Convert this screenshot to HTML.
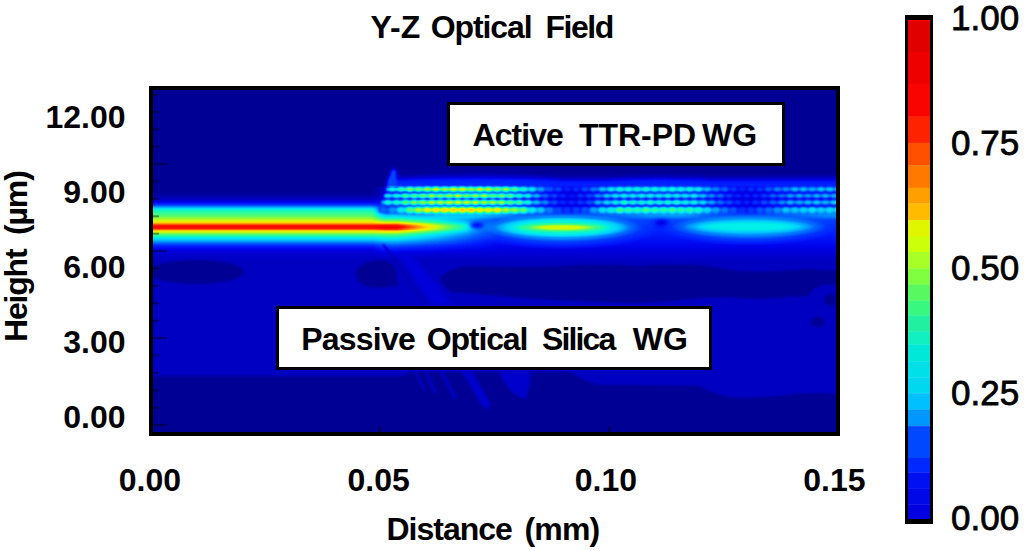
<!DOCTYPE html>
<html><head><meta charset="utf-8"><style>
html,body{margin:0;padding:0;background:#fff;width:1024px;height:551px;overflow:hidden;position:relative}
.t{position:absolute;font-family:"Liberation Sans",sans-serif;font-weight:bold;font-size:32px;line-height:32px;white-space:pre;color:#000}
.c{position:absolute;font-family:"Liberation Sans",sans-serif;font-weight:normal;font-size:35px;line-height:35px;white-space:pre;color:#000;left:951px;-webkit-text-stroke:0.8px #000}
.yt{position:absolute;left:25.5px;width:100px;text-align:right;font-family:"Liberation Sans",sans-serif;font-weight:bold;font-size:32px;line-height:32px;white-space:pre}
.r{transform-origin:0 0;transform:rotate(-90deg)}
#plot{position:absolute;left:149px;top:86px;width:683px;height:342px;border:4px solid #000;overflow:hidden;background:#000090}
#plot svg{position:absolute;left:0;top:0}
.box{position:absolute;background:#fff;border:3px solid #000;box-sizing:border-box}
#cbar{position:absolute;left:904.8px;top:14.5px;width:28.7px;height:509px;box-sizing:border-box;border:solid #000;border-width:5px 3.2px 5px 3.2px;overflow:hidden}
</style></head><body>
<!-- title -->
<span class="t" style="left:370.4px;top:11px">Y-Z</span>
<span class="t" style="left:430.7px;top:11px;letter-spacing:-1.08px">Optical</span>
<span class="t" style="left:545.5px;top:11px;letter-spacing:-1.5px">Field</span>

<!-- y ticks -->
<div class="yt" style="top:101.1px">12.00</div>
<div class="yt" style="top:175.9px">9.00</div>
<div class="yt" style="top:250.8px">6.00</div>
<div class="yt" style="top:325.6px">3.00</div>
<div class="yt" style="top:400.5px">0.00</div>

<!-- y label -->
<span class="t r" style="left:-0.4px;top:342px;letter-spacing:-1.2px">Height</span>
<span class="t r" style="left:-0.4px;top:234.5px;letter-spacing:-1.13px">(µm)</span>

<!-- x ticks -->
<span class="t" style="left:118.7px;top:464.2px">0.00</span>
<span class="t" style="left:347.5px;top:464.2px">0.05</span>
<span class="t" style="left:574.8px;top:464.2px">0.10</span>
<span class="t" style="left:803.2px;top:464.2px">0.15</span>

<!-- x label -->
<span class="t" style="left:386.5px;top:512.6px;letter-spacing:-1.0px">Distance</span>
<span class="t" style="left:524.4px;top:512.6px;letter-spacing:-0.8px">(mm)</span>

<!-- plot -->
<div id="plot">
<svg id="hm" width="683" height="342" viewBox="153 90 683 342"><defs><filter id="cm" filterUnits="userSpaceOnUse" x="153" y="90" width="683" height="342" color-interpolation-filters="sRGB"><feComponentTransfer><feFuncR type="table" tableValues="0 0 0 0 0 0 0 0 0 0 0 0 0 0 0 0 0 0 0 0 0 0 0 0 0 0 0 0 0 0 0 0 0 0 0 0 0 0 0 0 0 0.02 0.039 0.059 0.078 0.098 0.118 0.15 0.183 0.216 0.248 0.281 0.314 0.353 0.392 0.431 0.471 0.51 0.549 0.595 0.641 0.686 0.732 0.778 0.824 0.85 0.876 0.902 0.928 0.954 0.98 0.984 0.987 0.99 0.993 0.997 1 1 1 1 1 1 1 1 1 1 1 1 1 0.998 0.995 0.993 0.991 0.988 0.962 0.936 0.909 0.883 0.857 0.83 0.804"/><feFuncG type="table" tableValues="0 0 0 0 0 0 0 0 0 0 0 0 0 0.029 0.059 0.088 0.118 0.157 0.196 0.235 0.275 0.314 0.353 0.392 0.431 0.471 0.51 0.549 0.588 0.624 0.66 0.696 0.732 0.768 0.804 0.827 0.85 0.873 0.895 0.918 0.941 0.949 0.957 0.965 0.973 0.98 0.988 0.988 0.988 0.988 0.988 0.988 0.988 0.988 0.988 0.988 0.988 0.988 0.988 0.987 0.986 0.984 0.983 0.982 0.98 0.967 0.954 0.941 0.928 0.915 0.902 0.863 0.824 0.784 0.745 0.706 0.667 0.621 0.575 0.529 0.484 0.438 0.392 0.346 0.301 0.255 0.209 0.163 0.118 0.094 0.071 0.047 0.024 0 0 0 0 0 0 0 0"/><feFuncB type="table" tableValues="0.588 0.612 0.635 0.659 0.682 0.706 0.729 0.753 0.781 0.813 0.845 0.878 0.91 0.932 0.955 0.977 1 1 1 1 1 1 1 1 1 1 1 1 1 1 1 1 1 1 1 0.985 0.97 0.955 0.94 0.925 0.91 0.869 0.829 0.788 0.748 0.707 0.667 0.634 0.601 0.569 0.536 0.503 0.471 0.431 0.392 0.353 0.314 0.275 0.235 0.196 0.157 0.118 0.078 0.039 0 0 0 0 0 0 0 0 0 0 0 0 0 0 0 0 0 0 0 0 0 0 0 0 0 0 0 0 0 0 0 0 0 0 0 0 0"/></feComponentTransfer></filter><filter id="b0_7" filterUnits="userSpaceOnUse" x="100" y="40" width="800" height="450" color-interpolation-filters="sRGB"><feGaussianBlur stdDeviation="0.7"/></filter><filter id="b1" filterUnits="userSpaceOnUse" x="100" y="40" width="800" height="450" color-interpolation-filters="sRGB"><feGaussianBlur stdDeviation="1"/></filter><filter id="b1_5" filterUnits="userSpaceOnUse" x="100" y="40" width="800" height="450" color-interpolation-filters="sRGB"><feGaussianBlur stdDeviation="1.5"/></filter><filter id="b2" filterUnits="userSpaceOnUse" x="100" y="40" width="800" height="450" color-interpolation-filters="sRGB"><feGaussianBlur stdDeviation="2"/></filter><filter id="b3" filterUnits="userSpaceOnUse" x="100" y="40" width="800" height="450" color-interpolation-filters="sRGB"><feGaussianBlur stdDeviation="3"/></filter><filter id="b4" filterUnits="userSpaceOnUse" x="100" y="40" width="800" height="450" color-interpolation-filters="sRGB"><feGaussianBlur stdDeviation="4"/></filter><filter id="b6" filterUnits="userSpaceOnUse" x="100" y="40" width="800" height="450" color-interpolation-filters="sRGB"><feGaussianBlur stdDeviation="6"/></filter><linearGradient id="gb" gradientUnits="userSpaceOnUse" x1="0" y1="187.0" x2="0" y2="267.0"><stop offset="0.0000" stop-color="rgb(0,0,0)"/><stop offset="0.0750" stop-color="rgb(0,0,0)"/><stop offset="0.1125" stop-color="rgb(8,8,8)"/><stop offset="0.1625" stop-color="rgb(22,22,22)"/><stop offset="0.2000" stop-color="rgb(36,36,36)"/><stop offset="0.2275" stop-color="rgb(51,51,51)"/><stop offset="0.2525" stop-color="rgb(76,76,76)"/><stop offset="0.2775" stop-color="rgb(102,102,102)"/><stop offset="0.3125" stop-color="rgb(120,120,120)"/><stop offset="0.3625" stop-color="rgb(135,135,135)"/><stop offset="0.4000" stop-color="rgb(153,153,153)"/><stop offset="0.4337" stop-color="rgb(173,173,173)"/><stop offset="0.4587" stop-color="rgb(199,199,199)"/><stop offset="0.4775" stop-color="rgb(224,224,224)"/><stop offset="0.5000" stop-color="rgb(237,237,237)"/><stop offset="0.5238" stop-color="rgb(224,224,224)"/><stop offset="0.5363" stop-color="rgb(199,199,199)"/><stop offset="0.5538" stop-color="rgb(173,173,173)"/><stop offset="0.5813" stop-color="rgb(145,145,145)"/><stop offset="0.6062" stop-color="rgb(122,122,122)"/><stop offset="0.6312" stop-color="rgb(102,102,102)"/><stop offset="0.6625" stop-color="rgb(84,84,84)"/><stop offset="0.6937" stop-color="rgb(64,64,64)"/><stop offset="0.7250" stop-color="rgb(46,46,46)"/><stop offset="0.7750" stop-color="rgb(31,31,31)"/><stop offset="0.8375" stop-color="rgb(23,23,23)"/><stop offset="0.9125" stop-color="rgb(19,19,19)"/></linearGradient><linearGradient id="gt" gradientUnits="userSpaceOnUse" x1="0" y1="187.0" x2="0" y2="267.0"><stop offset="0.0000" stop-color="rgb(19,19,19)"/><stop offset="0.1250" stop-color="rgb(26,26,26)"/><stop offset="0.2250" stop-color="rgb(38,38,38)"/><stop offset="0.3125" stop-color="rgb(51,51,51)"/><stop offset="0.3500" stop-color="rgb(82,82,82)"/><stop offset="0.3875" stop-color="rgb(107,107,107)"/><stop offset="0.4250" stop-color="rgb(145,145,145)"/><stop offset="0.4462" stop-color="rgb(173,173,173)"/><stop offset="0.4625" stop-color="rgb(204,204,204)"/><stop offset="0.4762" stop-color="rgb(224,224,224)"/><stop offset="0.5000" stop-color="rgb(242,242,242)"/><stop offset="0.5288" stop-color="rgb(224,224,224)"/><stop offset="0.5425" stop-color="rgb(199,199,199)"/><stop offset="0.5600" stop-color="rgb(173,173,173)"/><stop offset="0.5875" stop-color="rgb(140,140,140)"/><stop offset="0.6188" stop-color="rgb(115,115,115)"/><stop offset="0.6500" stop-color="rgb(97,97,97)"/><stop offset="0.6875" stop-color="rgb(76,76,76)"/><stop offset="0.7375" stop-color="rgb(51,51,51)"/><stop offset="0.8125" stop-color="rgb(31,31,31)"/><stop offset="0.9000" stop-color="rgb(19,19,19)"/></linearGradient><linearGradient id="fadeT" gradientUnits="userSpaceOnUse" x1="372" y1="0" x2="500" y2="0"><stop offset="0" stop-color="#000"/><stop offset="0.1" stop-color="#fff"/><stop offset="0.2" stop-color="#fff"/><stop offset="1" stop-color="#000"/></linearGradient><mask id="mT" maskUnits="userSpaceOnUse" x="153" y="90" width="683" height="342"><rect x="153" y="90" width="683" height="342" fill="url(#fadeT)"/></mask><linearGradient id="gh" gradientUnits="userSpaceOnUse" x1="0" y1="172" x2="0" y2="262"><stop offset="-0.0444" stop-color="rgb(0,0,0)"/><stop offset="0.0111" stop-color="rgb(13,13,13)"/><stop offset="0.0667" stop-color="rgb(28,28,28)"/><stop offset="0.1222" stop-color="rgb(41,41,41)"/><stop offset="0.1611" stop-color="rgb(48,48,48)"/><stop offset="0.1778" stop-color="rgb(26,26,26)"/><stop offset="0.4333" stop-color="rgb(26,26,26)"/><stop offset="0.4556" stop-color="rgb(43,43,43)"/><stop offset="0.5000" stop-color="rgb(48,48,48)"/><stop offset="0.5444" stop-color="rgb(48,48,48)"/><stop offset="0.6000" stop-color="rgb(43,43,43)"/><stop offset="0.6667" stop-color="rgb(41,41,41)"/><stop offset="0.7556" stop-color="rgb(36,36,36)"/><stop offset="0.8444" stop-color="rgb(31,31,31)"/><stop offset="0.9222" stop-color="rgb(23,23,23)"/><stop offset="1.0000" stop-color="rgb(19,19,19)"/></linearGradient><linearGradient id="cbh" gradientUnits="userSpaceOnUse" x1="405" y1="0" x2="836" y2="0"><stop offset="0" stop-color="#000" stop-opacity="0"/><stop offset="0.08" stop-color="#000" stop-opacity="1"/><stop offset="1" stop-color="#000" stop-opacity="1"/></linearGradient><linearGradient id="cbv" gradientUnits="userSpaceOnUse" x1="405" y1="0" x2="836" y2="0"><stop offset="0.000" stop-color="rgb(76,76,76)" stop-opacity="0"/><stop offset="0.081" stop-color="rgb(87,87,87)" stop-opacity="1"/><stop offset="0.220" stop-color="rgb(82,82,82)" stop-opacity="1"/><stop offset="0.290" stop-color="rgb(61,61,61)" stop-opacity="1"/><stop offset="0.371" stop-color="rgb(36,36,36)" stop-opacity="1"/><stop offset="0.452" stop-color="rgb(61,61,61)" stop-opacity="1"/><stop offset="0.661" stop-color="rgb(76,76,76)" stop-opacity="1"/><stop offset="0.731" stop-color="rgb(51,51,51)" stop-opacity="1"/><stop offset="0.800" stop-color="rgb(36,36,36)" stop-opacity="1"/><stop offset="0.882" stop-color="rgb(61,61,61)" stop-opacity="1"/><stop offset="1.000" stop-color="rgb(69,69,69)" stop-opacity="1"/></linearGradient><radialGradient id="L10"><stop offset="0.5" stop-color="rgb(56,56,56)" stop-opacity="1.0"/><stop offset="1" stop-color="rgb(56,56,56)" stop-opacity="0"/></radialGradient><radialGradient id="L11"><stop offset="0.55" stop-color="rgb(82,82,82)" stop-opacity="1.0"/><stop offset="1" stop-color="rgb(82,82,82)" stop-opacity="0"/></radialGradient><radialGradient id="L12"><stop offset="0.6" stop-color="rgb(107,107,107)" stop-opacity="1.0"/><stop offset="1" stop-color="rgb(107,107,107)" stop-opacity="0"/></radialGradient><radialGradient id="L13"><stop offset="0.6" stop-color="rgb(133,133,133)" stop-opacity="1.0"/><stop offset="1" stop-color="rgb(133,133,133)" stop-opacity="0"/></radialGradient><radialGradient id="L14"><stop offset="0.55" stop-color="rgb(163,163,163)" stop-opacity="1.0"/><stop offset="1" stop-color="rgb(163,163,163)" stop-opacity="0"/></radialGradient><radialGradient id="L20"><stop offset="0.5" stop-color="rgb(56,56,56)" stop-opacity="1.0"/><stop offset="1" stop-color="rgb(56,56,56)" stop-opacity="0"/></radialGradient><radialGradient id="L21"><stop offset="0.55" stop-color="rgb(76,76,76)" stop-opacity="1.0"/><stop offset="1" stop-color="rgb(76,76,76)" stop-opacity="0"/></radialGradient><radialGradient id="L22"><stop offset="0.6" stop-color="rgb(92,92,92)" stop-opacity="1.0"/><stop offset="1" stop-color="rgb(92,92,92)" stop-opacity="0"/></radialGradient><radialGradient id="L23"><stop offset="0.6" stop-color="rgb(102,102,102)" stop-opacity="1.0"/><stop offset="1" stop-color="rgb(102,102,102)" stop-opacity="0"/></radialGradient><linearGradient id="rl0" gradientUnits="userSpaceOnUse" x1="386.0" y1="0" x2="846" y2="0"><stop offset="0.000" stop-color="rgb(84,84,84)"/><stop offset="0.026" stop-color="rgb(99,99,99)"/><stop offset="0.051" stop-color="rgb(118,118,118)"/><stop offset="0.077" stop-color="rgb(127,127,127)"/><stop offset="0.103" stop-color="rgb(135,135,135)"/><stop offset="0.128" stop-color="rgb(138,138,138)"/><stop offset="0.154" stop-color="rgb(142,142,142)"/><stop offset="0.179" stop-color="rgb(140,140,140)"/><stop offset="0.205" stop-color="rgb(136,136,136)"/><stop offset="0.231" stop-color="rgb(132,132,132)"/><stop offset="0.256" stop-color="rgb(125,125,125)"/><stop offset="0.282" stop-color="rgb(110,110,110)"/><stop offset="0.308" stop-color="rgb(89,89,89)"/><stop offset="0.333" stop-color="rgb(64,64,64)"/><stop offset="0.359" stop-color="rgb(43,43,43)"/><stop offset="0.385" stop-color="rgb(34,34,34)"/><stop offset="0.410" stop-color="rgb(32,32,32)"/><stop offset="0.436" stop-color="rgb(41,41,41)"/><stop offset="0.462" stop-color="rgb(61,61,61)"/><stop offset="0.487" stop-color="rgb(80,80,80)"/><stop offset="0.513" stop-color="rgb(90,90,90)"/><stop offset="0.538" stop-color="rgb(90,90,90)"/><stop offset="0.564" stop-color="rgb(90,90,90)"/><stop offset="0.590" stop-color="rgb(90,90,90)"/><stop offset="0.615" stop-color="rgb(90,90,90)"/><stop offset="0.641" stop-color="rgb(90,90,90)"/><stop offset="0.667" stop-color="rgb(87,87,87)"/><stop offset="0.692" stop-color="rgb(73,73,73)"/><stop offset="0.718" stop-color="rgb(54,54,54)"/><stop offset="0.744" stop-color="rgb(42,42,42)"/><stop offset="0.769" stop-color="rgb(33,33,33)"/><stop offset="0.795" stop-color="rgb(33,33,33)"/><stop offset="0.821" stop-color="rgb(40,40,40)"/><stop offset="0.846" stop-color="rgb(49,49,49)"/><stop offset="0.872" stop-color="rgb(61,61,61)"/><stop offset="0.897" stop-color="rgb(65,65,65)"/><stop offset="0.923" stop-color="rgb(67,67,67)"/><stop offset="0.949" stop-color="rgb(68,68,68)"/><stop offset="0.974" stop-color="rgb(70,70,70)"/><stop offset="1.000" stop-color="rgb(70,70,70)"/></linearGradient><linearGradient id="rl1" gradientUnits="userSpaceOnUse" x1="383.8" y1="0" x2="846" y2="0"><stop offset="0.000" stop-color="rgb(75,75,75)"/><stop offset="0.026" stop-color="rgb(89,89,89)"/><stop offset="0.051" stop-color="rgb(106,106,106)"/><stop offset="0.077" stop-color="rgb(117,117,117)"/><stop offset="0.103" stop-color="rgb(125,125,125)"/><stop offset="0.128" stop-color="rgb(128,128,128)"/><stop offset="0.154" stop-color="rgb(131,131,131)"/><stop offset="0.179" stop-color="rgb(131,131,131)"/><stop offset="0.205" stop-color="rgb(127,127,127)"/><stop offset="0.231" stop-color="rgb(123,123,123)"/><stop offset="0.256" stop-color="rgb(118,118,118)"/><stop offset="0.282" stop-color="rgb(104,104,104)"/><stop offset="0.308" stop-color="rgb(86,86,86)"/><stop offset="0.333" stop-color="rgb(62,62,62)"/><stop offset="0.359" stop-color="rgb(41,41,41)"/><stop offset="0.385" stop-color="rgb(33,33,33)"/><stop offset="0.410" stop-color="rgb(29,29,29)"/><stop offset="0.436" stop-color="rgb(37,37,37)"/><stop offset="0.462" stop-color="rgb(54,54,54)"/><stop offset="0.487" stop-color="rgb(73,73,73)"/><stop offset="0.513" stop-color="rgb(84,84,84)"/><stop offset="0.538" stop-color="rgb(84,84,84)"/><stop offset="0.564" stop-color="rgb(84,84,84)"/><stop offset="0.590" stop-color="rgb(84,84,84)"/><stop offset="0.615" stop-color="rgb(84,84,84)"/><stop offset="0.641" stop-color="rgb(84,84,84)"/><stop offset="0.667" stop-color="rgb(82,82,82)"/><stop offset="0.692" stop-color="rgb(69,69,69)"/><stop offset="0.718" stop-color="rgb(51,51,51)"/><stop offset="0.744" stop-color="rgb(39,39,39)"/><stop offset="0.769" stop-color="rgb(31,31,31)"/><stop offset="0.795" stop-color="rgb(30,30,30)"/><stop offset="0.821" stop-color="rgb(37,37,37)"/><stop offset="0.846" stop-color="rgb(45,45,45)"/><stop offset="0.872" stop-color="rgb(56,56,56)"/><stop offset="0.897" stop-color="rgb(60,60,60)"/><stop offset="0.923" stop-color="rgb(62,62,62)"/><stop offset="0.949" stop-color="rgb(63,63,63)"/><stop offset="0.974" stop-color="rgb(65,65,65)"/><stop offset="1.000" stop-color="rgb(65,65,65)"/></linearGradient><linearGradient id="rl2" gradientUnits="userSpaceOnUse" x1="381.4" y1="0" x2="846" y2="0"><stop offset="0.000" stop-color="rgb(79,79,79)"/><stop offset="0.026" stop-color="rgb(92,92,92)"/><stop offset="0.051" stop-color="rgb(111,111,111)"/><stop offset="0.077" stop-color="rgb(124,124,124)"/><stop offset="0.103" stop-color="rgb(133,133,133)"/><stop offset="0.128" stop-color="rgb(137,137,137)"/><stop offset="0.154" stop-color="rgb(140,140,140)"/><stop offset="0.179" stop-color="rgb(141,141,141)"/><stop offset="0.205" stop-color="rgb(137,137,137)"/><stop offset="0.231" stop-color="rgb(133,133,133)"/><stop offset="0.256" stop-color="rgb(129,129,129)"/><stop offset="0.282" stop-color="rgb(114,114,114)"/><stop offset="0.308" stop-color="rgb(96,96,96)"/><stop offset="0.333" stop-color="rgb(70,70,70)"/><stop offset="0.359" stop-color="rgb(47,47,47)"/><stop offset="0.385" stop-color="rgb(36,36,36)"/><stop offset="0.410" stop-color="rgb(30,30,30)"/><stop offset="0.436" stop-color="rgb(39,39,39)"/><stop offset="0.462" stop-color="rgb(56,56,56)"/><stop offset="0.487" stop-color="rgb(77,77,77)"/><stop offset="0.513" stop-color="rgb(90,90,90)"/><stop offset="0.538" stop-color="rgb(90,90,90)"/><stop offset="0.564" stop-color="rgb(90,90,90)"/><stop offset="0.590" stop-color="rgb(90,90,90)"/><stop offset="0.615" stop-color="rgb(90,90,90)"/><stop offset="0.641" stop-color="rgb(90,90,90)"/><stop offset="0.667" stop-color="rgb(89,89,89)"/><stop offset="0.692" stop-color="rgb(75,75,75)"/><stop offset="0.718" stop-color="rgb(56,56,56)"/><stop offset="0.744" stop-color="rgb(43,43,43)"/><stop offset="0.769" stop-color="rgb(33,33,33)"/><stop offset="0.795" stop-color="rgb(32,32,32)"/><stop offset="0.821" stop-color="rgb(39,39,39)"/><stop offset="0.846" stop-color="rgb(48,48,48)"/><stop offset="0.872" stop-color="rgb(60,60,60)"/><stop offset="0.897" stop-color="rgb(65,65,65)"/><stop offset="0.923" stop-color="rgb(66,66,66)"/><stop offset="0.949" stop-color="rgb(68,68,68)"/><stop offset="0.974" stop-color="rgb(70,70,70)"/><stop offset="1.000" stop-color="rgb(70,70,70)"/></linearGradient><linearGradient id="rl3" gradientUnits="userSpaceOnUse" x1="378.8" y1="0" x2="846" y2="0"><stop offset="0.000" stop-color="rgb(38,38,38)"/><stop offset="0.026" stop-color="rgb(54,54,54)"/><stop offset="0.051" stop-color="rgb(84,84,84)"/><stop offset="0.077" stop-color="rgb(121,121,121)"/><stop offset="0.103" stop-color="rgb(142,142,142)"/><stop offset="0.128" stop-color="rgb(147,147,147)"/><stop offset="0.154" stop-color="rgb(151,151,151)"/><stop offset="0.179" stop-color="rgb(153,153,153)"/><stop offset="0.205" stop-color="rgb(149,149,149)"/><stop offset="0.231" stop-color="rgb(144,144,144)"/><stop offset="0.256" stop-color="rgb(140,140,140)"/><stop offset="0.282" stop-color="rgb(126,126,126)"/><stop offset="0.308" stop-color="rgb(108,108,108)"/><stop offset="0.333" stop-color="rgb(79,79,79)"/><stop offset="0.359" stop-color="rgb(54,54,54)"/><stop offset="0.385" stop-color="rgb(40,40,40)"/><stop offset="0.410" stop-color="rgb(31,31,31)"/><stop offset="0.436" stop-color="rgb(41,41,41)"/><stop offset="0.462" stop-color="rgb(57,57,57)"/><stop offset="0.487" stop-color="rgb(82,82,82)"/><stop offset="0.513" stop-color="rgb(95,95,95)"/><stop offset="0.538" stop-color="rgb(97,97,97)"/><stop offset="0.564" stop-color="rgb(97,97,97)"/><stop offset="0.590" stop-color="rgb(97,97,97)"/><stop offset="0.615" stop-color="rgb(97,97,97)"/><stop offset="0.641" stop-color="rgb(97,97,97)"/><stop offset="0.667" stop-color="rgb(97,97,97)"/><stop offset="0.692" stop-color="rgb(82,82,82)"/><stop offset="0.718" stop-color="rgb(62,62,62)"/><stop offset="0.744" stop-color="rgb(47,47,47)"/><stop offset="0.769" stop-color="rgb(37,37,37)"/><stop offset="0.795" stop-color="rgb(34,34,34)"/><stop offset="0.821" stop-color="rgb(42,42,42)"/><stop offset="0.846" stop-color="rgb(52,52,52)"/><stop offset="0.872" stop-color="rgb(65,65,65)"/><stop offset="0.897" stop-color="rgb(70,70,70)"/><stop offset="0.923" stop-color="rgb(72,72,72)"/><stop offset="0.949" stop-color="rgb(74,74,74)"/><stop offset="0.974" stop-color="rgb(75,75,75)"/><stop offset="1.000" stop-color="rgb(76,76,76)"/></linearGradient></defs><g filter="url(#cm)"><rect x="140" y="80" width="710" height="362" fill="rgb(19,19,19)"/><rect x="140" y="80" width="710" height="110" fill="rgb(0,0,0)"/><rect x="140" y="187.0" width="245" height="80.0" fill="url(#gb)"/><path d="M392 200 L388 182 Q392 176 400 178 L846 177 L846 262 L470 262 Q430 258 400 250 Z" fill="url(#gh)" filter="url(#b2)"/><g filter="url(#b4)" style="mix-blend-mode:lighten" fill="rgb(43,43,43)"><ellipse cx="475" cy="184" rx="85" ry="7"/><ellipse cx="660" cy="185" rx="50" ry="5"/></g><rect x="405" y="211.5" width="441" height="7" fill="url(#cbv)" filter="url(#b1_5)"/><g filter="url(#b1_5)" style="mix-blend-mode:lighten"><path d="M381 214 L384 196 L388 178 L392 168 L397 170 L397 186 L392 204 L386 216 Z" fill="rgb(51,51,51)"/><path d="M380 212 L386 190 L388 192 L383 214 Z" fill="rgb(76,76,76)"/></g><rect x="372" y="187.0" width="130" height="80.0" fill="url(#gt)" mask="url(#mT)"/><g><ellipse cx="562" cy="227.5" rx="98" ry="22" fill="url(#L10)"/><ellipse cx="562" cy="227.5" rx="80" ry="14" fill="url(#L11)"/><ellipse cx="562" cy="227.5" rx="68" ry="10" fill="url(#L12)"/><ellipse cx="562" cy="227.5" rx="48" ry="5.2" fill="url(#L13)"/><ellipse cx="562" cy="227.5" rx="34" ry="3.0" fill="url(#L14)"/><ellipse cx="749" cy="226.6" rx="92" ry="19" fill="url(#L20)"/><ellipse cx="749" cy="226.6" rx="78" ry="12" fill="url(#L21)"/><ellipse cx="749" cy="226.6" rx="66" ry="7.5" fill="url(#L22)"/><ellipse cx="749" cy="226.6" rx="54" ry="4.5" fill="url(#L23)"/></g><g filter="url(#b1)"><rect x="386.0" y="187.4" width="460.0" height="3.8" fill="url(#rl0)"/><ellipse cx="392.3" cy="189.3" rx="3.4" ry="2.4" fill="rgb(110,110,110)"/><ellipse cx="401.0" cy="189.3" rx="3.4" ry="2.4" fill="rgb(128,128,128)"/><ellipse cx="409.8" cy="189.3" rx="3.4" ry="2.4" fill="rgb(151,151,151)"/><ellipse cx="418.5" cy="189.3" rx="3.4" ry="2.4" fill="rgb(146,146,146)"/><ellipse cx="427.3" cy="189.3" rx="3.4" ry="2.4" fill="rgb(162,162,162)"/><ellipse cx="436.0" cy="189.3" rx="3.4" ry="2.4" fill="rgb(173,173,173)"/><ellipse cx="444.8" cy="189.3" rx="3.4" ry="2.4" fill="rgb(158,158,158)"/><ellipse cx="453.5" cy="189.3" rx="3.4" ry="2.4" fill="rgb(175,175,175)"/><ellipse cx="462.3" cy="189.3" rx="3.4" ry="2.4" fill="rgb(179,179,179)"/><ellipse cx="471.0" cy="189.3" rx="3.4" ry="2.4" fill="rgb(158,158,158)"/><ellipse cx="479.8" cy="189.3" rx="3.4" ry="2.4" fill="rgb(172,172,172)"/><ellipse cx="488.5" cy="189.3" rx="3.4" ry="2.4" fill="rgb(166,166,166)"/><ellipse cx="497.3" cy="189.3" rx="3.4" ry="2.4" fill="rgb(149,149,149)"/><ellipse cx="506.0" cy="189.3" rx="3.4" ry="2.4" fill="rgb(157,157,157)"/><ellipse cx="514.8" cy="189.3" rx="3.4" ry="2.4" fill="rgb(138,138,138)"/><ellipse cx="523.5" cy="189.3" rx="3.4" ry="2.4" fill="rgb(115,115,115)"/><ellipse cx="532.3" cy="189.3" rx="3.4" ry="2.4" fill="rgb(103,103,103)"/><ellipse cx="541.0" cy="189.3" rx="3.4" ry="2.4" fill="rgb(78,78,78)"/><ellipse cx="549.8" cy="189.3" rx="3.4" ry="2.4" fill="rgb(57,57,57)"/><ellipse cx="558.5" cy="189.3" rx="3.4" ry="2.4" fill="rgb(53,53,53)"/><ellipse cx="567.3" cy="189.3" rx="3.4" ry="2.4" fill="rgb(43,43,43)"/><ellipse cx="576.0" cy="189.3" rx="3.4" ry="2.4" fill="rgb(46,46,46)"/><ellipse cx="584.8" cy="189.3" rx="3.4" ry="2.4" fill="rgb(55,55,55)"/><ellipse cx="593.5" cy="189.3" rx="3.4" ry="2.4" fill="rgb(66,66,66)"/><ellipse cx="602.3" cy="189.3" rx="3.4" ry="2.4" fill="rgb(88,88,88)"/><ellipse cx="611.0" cy="189.3" rx="3.4" ry="2.4" fill="rgb(102,102,102)"/><ellipse cx="619.8" cy="189.3" rx="3.4" ry="2.4" fill="rgb(112,112,112)"/><ellipse cx="628.5" cy="189.3" rx="3.4" ry="2.4" fill="rgb(112,112,112)"/><ellipse cx="637.3" cy="189.3" rx="3.4" ry="2.4" fill="rgb(111,111,111)"/><ellipse cx="646.0" cy="189.3" rx="3.4" ry="2.4" fill="rgb(114,114,114)"/><ellipse cx="654.8" cy="189.3" rx="3.4" ry="2.4" fill="rgb(112,112,112)"/><ellipse cx="663.5" cy="189.3" rx="3.4" ry="2.4" fill="rgb(110,110,110)"/><ellipse cx="672.3" cy="189.3" rx="3.4" ry="2.4" fill="rgb(116,116,116)"/><ellipse cx="681.0" cy="189.3" rx="3.4" ry="2.4" fill="rgb(110,110,110)"/><ellipse cx="689.8" cy="189.3" rx="3.4" ry="2.4" fill="rgb(110,110,110)"/><ellipse cx="698.5" cy="189.3" rx="3.4" ry="2.4" fill="rgb(105,105,105)"/><ellipse cx="707.3" cy="189.3" rx="3.4" ry="2.4" fill="rgb(84,84,84)"/><ellipse cx="716.0" cy="189.3" rx="3.4" ry="2.4" fill="rgb(70,70,70)"/><ellipse cx="724.8" cy="189.3" rx="3.4" ry="2.4" fill="rgb(62,62,62)"/><ellipse cx="733.5" cy="189.3" rx="3.4" ry="2.4" fill="rgb(49,49,49)"/><ellipse cx="742.3" cy="189.3" rx="3.4" ry="2.4" fill="rgb(43,43,43)"/><ellipse cx="751.0" cy="189.3" rx="3.4" ry="2.4" fill="rgb(47,47,47)"/><ellipse cx="759.8" cy="189.3" rx="3.4" ry="2.4" fill="rgb(48,48,48)"/><ellipse cx="768.5" cy="189.3" rx="3.4" ry="2.4" fill="rgb(59,59,59)"/><ellipse cx="777.3" cy="189.3" rx="3.4" ry="2.4" fill="rgb(70,70,70)"/><ellipse cx="786.0" cy="189.3" rx="3.4" ry="2.4" fill="rgb(72,72,72)"/><ellipse cx="794.8" cy="189.3" rx="3.4" ry="2.4" fill="rgb(85,85,85)"/><ellipse cx="803.5" cy="189.3" rx="3.4" ry="2.4" fill="rgb(86,86,86)"/><ellipse cx="812.3" cy="189.3" rx="3.4" ry="2.4" fill="rgb(81,81,81)"/><ellipse cx="821.0" cy="189.3" rx="3.4" ry="2.4" fill="rgb(90,90,90)"/><ellipse cx="829.8" cy="189.3" rx="3.4" ry="2.4" fill="rgb(89,89,89)"/><ellipse cx="838.5" cy="189.3" rx="3.4" ry="2.4" fill="rgb(86,86,86)"/><ellipse cx="847.3" cy="189.3" rx="3.4" ry="2.4" fill="rgb(92,92,92)"/><rect x="383.8" y="193.9" width="462.2" height="3.6" fill="url(#rl1)"/><ellipse cx="387.9" cy="195.7" rx="3.4" ry="2.3" fill="rgb(99,99,99)"/><ellipse cx="396.7" cy="195.7" rx="3.4" ry="2.3" fill="rgb(109,109,109)"/><ellipse cx="405.4" cy="195.7" rx="3.4" ry="2.3" fill="rgb(134,134,134)"/><ellipse cx="414.2" cy="195.7" rx="3.4" ry="2.3" fill="rgb(135,135,135)"/><ellipse cx="422.9" cy="195.7" rx="3.4" ry="2.3" fill="rgb(143,143,143)"/><ellipse cx="431.7" cy="195.7" rx="3.4" ry="2.3" fill="rgb(162,162,162)"/><ellipse cx="440.4" cy="195.7" rx="3.4" ry="2.3" fill="rgb(148,148,148)"/><ellipse cx="449.2" cy="195.7" rx="3.4" ry="2.3" fill="rgb(157,157,157)"/><ellipse cx="457.9" cy="195.7" rx="3.4" ry="2.3" fill="rgb(171,171,171)"/><ellipse cx="466.7" cy="195.7" rx="3.4" ry="2.3" fill="rgb(150,150,150)"/><ellipse cx="475.4" cy="195.7" rx="3.4" ry="2.3" fill="rgb(157,157,157)"/><ellipse cx="484.2" cy="195.7" rx="3.4" ry="2.3" fill="rgb(161,161,161)"/><ellipse cx="492.9" cy="195.7" rx="3.4" ry="2.3" fill="rgb(141,141,141)"/><ellipse cx="501.7" cy="195.7" rx="3.4" ry="2.3" fill="rgb(148,148,148)"/><ellipse cx="510.4" cy="195.7" rx="3.4" ry="2.3" fill="rgb(138,138,138)"/><ellipse cx="519.2" cy="195.7" rx="3.4" ry="2.3" fill="rgb(116,116,116)"/><ellipse cx="527.9" cy="195.7" rx="3.4" ry="2.3" fill="rgb(106,106,106)"/><ellipse cx="536.7" cy="195.7" rx="3.4" ry="2.3" fill="rgb(84,84,84)"/><ellipse cx="545.4" cy="195.7" rx="3.4" ry="2.3" fill="rgb(62,62,62)"/><ellipse cx="554.2" cy="195.7" rx="3.4" ry="2.3" fill="rgb(53,53,53)"/><ellipse cx="562.9" cy="195.7" rx="3.4" ry="2.3" fill="rgb(44,44,44)"/><ellipse cx="571.7" cy="195.7" rx="3.4" ry="2.3" fill="rgb(39,39,39)"/><ellipse cx="580.4" cy="195.7" rx="3.4" ry="2.3" fill="rgb(48,48,48)"/><ellipse cx="589.2" cy="195.7" rx="3.4" ry="2.3" fill="rgb(54,54,54)"/><ellipse cx="597.9" cy="195.7" rx="3.4" ry="2.3" fill="rgb(72,72,72)"/><ellipse cx="606.7" cy="195.7" rx="3.4" ry="2.3" fill="rgb(90,90,90)"/><ellipse cx="615.4" cy="195.7" rx="3.4" ry="2.3" fill="rgb(100,100,100)"/><ellipse cx="624.2" cy="195.7" rx="3.4" ry="2.3" fill="rgb(106,106,106)"/><ellipse cx="632.9" cy="195.7" rx="3.4" ry="2.3" fill="rgb(103,103,103)"/><ellipse cx="641.7" cy="195.7" rx="3.4" ry="2.3" fill="rgb(106,106,106)"/><ellipse cx="650.4" cy="195.7" rx="3.4" ry="2.3" fill="rgb(106,106,106)"/><ellipse cx="659.2" cy="195.7" rx="3.4" ry="2.3" fill="rgb(101,101,101)"/><ellipse cx="667.9" cy="195.7" rx="3.4" ry="2.3" fill="rgb(108,108,108)"/><ellipse cx="676.7" cy="195.7" rx="3.4" ry="2.3" fill="rgb(105,105,105)"/><ellipse cx="685.4" cy="195.7" rx="3.4" ry="2.3" fill="rgb(101,101,101)"/><ellipse cx="694.2" cy="195.7" rx="3.4" ry="2.3" fill="rgb(104,104,104)"/><ellipse cx="702.9" cy="195.7" rx="3.4" ry="2.3" fill="rgb(87,87,87)"/><ellipse cx="711.7" cy="195.7" rx="3.4" ry="2.3" fill="rgb(71,71,71)"/><ellipse cx="720.4" cy="195.7" rx="3.4" ry="2.3" fill="rgb(63,63,63)"/><ellipse cx="729.2" cy="195.7" rx="3.4" ry="2.3" fill="rgb(51,51,51)"/><ellipse cx="737.9" cy="195.7" rx="3.4" ry="2.3" fill="rgb(43,43,43)"/><ellipse cx="746.7" cy="195.7" rx="3.4" ry="2.3" fill="rgb(42,42,42)"/><ellipse cx="755.4" cy="195.7" rx="3.4" ry="2.3" fill="rgb(44,44,44)"/><ellipse cx="764.2" cy="195.7" rx="3.4" ry="2.3" fill="rgb(51,51,51)"/><ellipse cx="772.9" cy="195.7" rx="3.4" ry="2.3" fill="rgb(61,61,61)"/><ellipse cx="781.7" cy="195.7" rx="3.4" ry="2.3" fill="rgb(64,64,64)"/><ellipse cx="790.4" cy="195.7" rx="3.4" ry="2.3" fill="rgb(77,77,77)"/><ellipse cx="799.2" cy="195.7" rx="3.4" ry="2.3" fill="rgb(81,81,81)"/><ellipse cx="807.9" cy="195.7" rx="3.4" ry="2.3" fill="rgb(75,75,75)"/><ellipse cx="816.7" cy="195.7" rx="3.4" ry="2.3" fill="rgb(82,82,82)"/><ellipse cx="825.4" cy="195.7" rx="3.4" ry="2.3" fill="rgb(84,84,84)"/><ellipse cx="834.2" cy="195.7" rx="3.4" ry="2.3" fill="rgb(80,80,80)"/><ellipse cx="842.9" cy="195.7" rx="3.4" ry="2.3" fill="rgb(85,85,85)"/><rect x="381.4" y="200.5" width="464.6" height="3.8" fill="url(#rl2)"/><ellipse cx="387.9" cy="202.4" rx="3.4" ry="2.4" fill="rgb(111,111,111)"/><ellipse cx="396.7" cy="202.4" rx="3.4" ry="2.4" fill="rgb(116,116,116)"/><ellipse cx="405.4" cy="202.4" rx="3.4" ry="2.4" fill="rgb(139,139,139)"/><ellipse cx="414.2" cy="202.4" rx="3.4" ry="2.4" fill="rgb(151,151,151)"/><ellipse cx="422.9" cy="202.4" rx="3.4" ry="2.4" fill="rgb(154,154,154)"/><ellipse cx="431.7" cy="202.4" rx="3.4" ry="2.4" fill="rgb(166,166,166)"/><ellipse cx="440.4" cy="202.4" rx="3.4" ry="2.4" fill="rgb(167,167,167)"/><ellipse cx="449.2" cy="202.4" rx="3.4" ry="2.4" fill="rgb(169,169,169)"/><ellipse cx="457.9" cy="202.4" rx="3.4" ry="2.4" fill="rgb(172,172,172)"/><ellipse cx="466.7" cy="202.4" rx="3.4" ry="2.4" fill="rgb(171,171,171)"/><ellipse cx="475.4" cy="202.4" rx="3.4" ry="2.4" fill="rgb(170,170,170)"/><ellipse cx="484.2" cy="202.4" rx="3.4" ry="2.4" fill="rgb(161,161,161)"/><ellipse cx="492.9" cy="202.4" rx="3.4" ry="2.4" fill="rgb(162,162,162)"/><ellipse cx="501.7" cy="202.4" rx="3.4" ry="2.4" fill="rgb(159,159,159)"/><ellipse cx="510.4" cy="202.4" rx="3.4" ry="2.4" fill="rgb(138,138,138)"/><ellipse cx="519.2" cy="202.4" rx="3.4" ry="2.4" fill="rgb(134,134,134)"/><ellipse cx="527.9" cy="202.4" rx="3.4" ry="2.4" fill="rgb(112,112,112)"/><ellipse cx="536.7" cy="202.4" rx="3.4" ry="2.4" fill="rgb(84,84,84)"/><ellipse cx="545.4" cy="202.4" rx="3.4" ry="2.4" fill="rgb(71,71,71)"/><ellipse cx="554.2" cy="202.4" rx="3.4" ry="2.4" fill="rgb(55,55,55)"/><ellipse cx="562.9" cy="202.4" rx="3.4" ry="2.4" fill="rgb(45,45,45)"/><ellipse cx="571.7" cy="202.4" rx="3.4" ry="2.4" fill="rgb(44,44,44)"/><ellipse cx="580.4" cy="202.4" rx="3.4" ry="2.4" fill="rgb(50,50,50)"/><ellipse cx="589.2" cy="202.4" rx="3.4" ry="2.4" fill="rgb(55,55,55)"/><ellipse cx="597.9" cy="202.4" rx="3.4" ry="2.4" fill="rgb(82,82,82)"/><ellipse cx="606.7" cy="202.4" rx="3.4" ry="2.4" fill="rgb(94,94,94)"/><ellipse cx="615.4" cy="202.4" rx="3.4" ry="2.4" fill="rgb(103,103,103)"/><ellipse cx="624.2" cy="202.4" rx="3.4" ry="2.4" fill="rgb(119,119,119)"/><ellipse cx="632.9" cy="202.4" rx="3.4" ry="2.4" fill="rgb(108,108,108)"/><ellipse cx="641.7" cy="202.4" rx="3.4" ry="2.4" fill="rgb(110,110,110)"/><ellipse cx="650.4" cy="202.4" rx="3.4" ry="2.4" fill="rgb(118,118,118)"/><ellipse cx="659.2" cy="202.4" rx="3.4" ry="2.4" fill="rgb(108,108,108)"/><ellipse cx="667.9" cy="202.4" rx="3.4" ry="2.4" fill="rgb(112,112,112)"/><ellipse cx="676.7" cy="202.4" rx="3.4" ry="2.4" fill="rgb(116,116,116)"/><ellipse cx="685.4" cy="202.4" rx="3.4" ry="2.4" fill="rgb(108,108,108)"/><ellipse cx="694.2" cy="202.4" rx="3.4" ry="2.4" fill="rgb(107,107,107)"/><ellipse cx="702.9" cy="202.4" rx="3.4" ry="2.4" fill="rgb(96,96,96)"/><ellipse cx="711.7" cy="202.4" rx="3.4" ry="2.4" fill="rgb(78,78,78)"/><ellipse cx="720.4" cy="202.4" rx="3.4" ry="2.4" fill="rgb(64,64,64)"/><ellipse cx="729.2" cy="202.4" rx="3.4" ry="2.4" fill="rgb(55,55,55)"/><ellipse cx="737.9" cy="202.4" rx="3.4" ry="2.4" fill="rgb(47,47,47)"/><ellipse cx="746.7" cy="202.4" rx="3.4" ry="2.4" fill="rgb(42,42,42)"/><ellipse cx="755.4" cy="202.4" rx="3.4" ry="2.4" fill="rgb(48,48,48)"/><ellipse cx="764.2" cy="202.4" rx="3.4" ry="2.4" fill="rgb(55,55,55)"/><ellipse cx="772.9" cy="202.4" rx="3.4" ry="2.4" fill="rgb(61,61,61)"/><ellipse cx="781.7" cy="202.4" rx="3.4" ry="2.4" fill="rgb(72,72,72)"/><ellipse cx="790.4" cy="202.4" rx="3.4" ry="2.4" fill="rgb(84,84,84)"/><ellipse cx="799.2" cy="202.4" rx="3.4" ry="2.4" fill="rgb(80,80,80)"/><ellipse cx="807.9" cy="202.4" rx="3.4" ry="2.4" fill="rgb(85,85,85)"/><ellipse cx="816.7" cy="202.4" rx="3.4" ry="2.4" fill="rgb(89,89,89)"/><ellipse cx="825.4" cy="202.4" rx="3.4" ry="2.4" fill="rgb(83,83,83)"/><ellipse cx="834.2" cy="202.4" rx="3.4" ry="2.4" fill="rgb(91,91,91)"/><ellipse cx="842.9" cy="202.4" rx="3.4" ry="2.4" fill="rgb(92,92,92)"/><rect x="378.8" y="207.3" width="467.2" height="5.2" fill="url(#rl3)"/><ellipse cx="383.5" cy="209.9" rx="3.8" ry="3.1" fill="rgb(59,59,59)"/><ellipse cx="392.3" cy="209.9" rx="3.8" ry="3.1" fill="rgb(71,71,71)"/><ellipse cx="401.0" cy="209.9" rx="3.8" ry="3.1" fill="rgb(99,99,99)"/><ellipse cx="409.8" cy="209.9" rx="3.8" ry="3.1" fill="rgb(134,134,134)"/><ellipse cx="418.5" cy="209.9" rx="3.8" ry="3.1" fill="rgb(158,158,158)"/><ellipse cx="427.3" cy="209.9" rx="3.8" ry="3.1" fill="rgb(174,174,174)"/><ellipse cx="436.0" cy="209.9" rx="3.8" ry="3.1" fill="rgb(178,178,178)"/><ellipse cx="444.8" cy="209.9" rx="3.8" ry="3.1" fill="rgb(181,181,181)"/><ellipse cx="453.5" cy="209.9" rx="3.8" ry="3.1" fill="rgb(184,184,184)"/><ellipse cx="462.3" cy="209.9" rx="3.8" ry="3.1" fill="rgb(185,185,185)"/><ellipse cx="471.0" cy="209.9" rx="3.8" ry="3.1" fill="rgb(186,186,186)"/><ellipse cx="479.8" cy="209.9" rx="3.8" ry="3.1" fill="rgb(175,175,175)"/><ellipse cx="488.5" cy="209.9" rx="3.8" ry="3.1" fill="rgb(174,174,174)"/><ellipse cx="497.3" cy="209.9" rx="3.8" ry="3.1" fill="rgb(177,177,177)"/><ellipse cx="506.0" cy="209.9" rx="3.8" ry="3.1" fill="rgb(155,155,155)"/><ellipse cx="514.8" cy="209.9" rx="3.8" ry="3.1" fill="rgb(148,148,148)"/><ellipse cx="523.5" cy="209.9" rx="3.8" ry="3.1" fill="rgb(135,135,135)"/><ellipse cx="532.3" cy="209.9" rx="3.8" ry="3.1" fill="rgb(100,100,100)"/><ellipse cx="541.0" cy="209.9" rx="3.8" ry="3.1" fill="rgb(86,86,86)"/><ellipse cx="549.8" cy="209.9" rx="3.8" ry="3.1" fill="rgb(65,65,65)"/><ellipse cx="558.5" cy="209.9" rx="3.8" ry="3.1" fill="rgb(51,51,51)"/><ellipse cx="567.3" cy="209.9" rx="3.8" ry="3.1" fill="rgb(47,47,47)"/><ellipse cx="576.0" cy="209.9" rx="3.8" ry="3.1" fill="rgb(50,50,50)"/><ellipse cx="584.8" cy="209.9" rx="3.8" ry="3.1" fill="rgb(54,54,54)"/><ellipse cx="593.5" cy="209.9" rx="3.8" ry="3.1" fill="rgb(75,75,75)"/><ellipse cx="602.3" cy="209.9" rx="3.8" ry="3.1" fill="rgb(95,95,95)"/><ellipse cx="611.0" cy="209.9" rx="3.8" ry="3.1" fill="rgb(103,103,103)"/><ellipse cx="619.8" cy="209.9" rx="3.8" ry="3.1" fill="rgb(127,127,127)"/><ellipse cx="628.5" cy="209.9" rx="3.8" ry="3.1" fill="rgb(120,120,120)"/><ellipse cx="637.3" cy="209.9" rx="3.8" ry="3.1" fill="rgb(116,116,116)"/><ellipse cx="646.0" cy="209.9" rx="3.8" ry="3.1" fill="rgb(127,127,127)"/><ellipse cx="654.8" cy="209.9" rx="3.8" ry="3.1" fill="rgb(118,118,118)"/><ellipse cx="663.5" cy="209.9" rx="3.8" ry="3.1" fill="rgb(118,118,118)"/><ellipse cx="672.3" cy="209.9" rx="3.8" ry="3.1" fill="rgb(125,125,125)"/><ellipse cx="681.0" cy="209.9" rx="3.8" ry="3.1" fill="rgb(118,118,118)"/><ellipse cx="689.8" cy="209.9" rx="3.8" ry="3.1" fill="rgb(119,119,119)"/><ellipse cx="698.5" cy="209.9" rx="3.8" ry="3.1" fill="rgb(110,110,110)"/><ellipse cx="707.3" cy="209.9" rx="3.8" ry="3.1" fill="rgb(93,93,93)"/><ellipse cx="716.0" cy="209.9" rx="3.8" ry="3.1" fill="rgb(76,76,76)"/><ellipse cx="724.8" cy="209.9" rx="3.8" ry="3.1" fill="rgb(64,64,64)"/><ellipse cx="733.5" cy="209.9" rx="3.8" ry="3.1" fill="rgb(55,55,55)"/><ellipse cx="742.3" cy="209.9" rx="3.8" ry="3.1" fill="rgb(46,46,46)"/><ellipse cx="751.0" cy="209.9" rx="3.8" ry="3.1" fill="rgb(48,48,48)"/><ellipse cx="759.8" cy="209.9" rx="3.8" ry="3.1" fill="rgb(56,56,56)"/><ellipse cx="768.5" cy="209.9" rx="3.8" ry="3.1" fill="rgb(61,61,61)"/><ellipse cx="777.3" cy="209.9" rx="3.8" ry="3.1" fill="rgb(71,71,71)"/><ellipse cx="786.0" cy="209.9" rx="3.8" ry="3.1" fill="rgb(86,86,86)"/><ellipse cx="794.8" cy="209.9" rx="3.8" ry="3.1" fill="rgb(86,86,86)"/><ellipse cx="803.5" cy="209.9" rx="3.8" ry="3.1" fill="rgb(89,89,89)"/><ellipse cx="812.3" cy="209.9" rx="3.8" ry="3.1" fill="rgb(96,96,96)"/><ellipse cx="821.0" cy="209.9" rx="3.8" ry="3.1" fill="rgb(89,89,89)"/><ellipse cx="829.8" cy="209.9" rx="3.8" ry="3.1" fill="rgb(94,94,94)"/><ellipse cx="838.5" cy="209.9" rx="3.8" ry="3.1" fill="rgb(101,101,101)"/><ellipse cx="847.3" cy="209.9" rx="3.8" ry="3.1" fill="rgb(90,90,90)"/></g><g filter="url(#b2)" fill="rgb(23,23,23)" style="mix-blend-mode:darken"><ellipse cx="476.7" cy="225.4" rx="7" ry="2.6"/><ellipse cx="661.6" cy="222.6" rx="6" ry="2.4"/></g><g filter="url(#b1)" fill="rgb(0,0,0)"><ellipse cx="196" cy="272" rx="48" ry="12"/><path d="M356 272 Q360 262 378 260 Q392 260 396 270 L398 285 Q380 290 366 286 Q356 282 356 272 Z"/><path d="M440 280 Q445 268 470 266 Q520 268 560 266 T640 266 Q690 262 720 268 T790 270 Q815 268 846 272 L846 285 Q820 282 812 290 Q808 300 795 296 Q770 300 740 298 T680 300 T600 302 Q540 300 500 296 T450 292 Z"/><ellipse cx="818" cy="322" rx="7" ry="5"/><ellipse cx="830" cy="300" rx="6" ry="6"/><path d="M140 376 L405 376 L410 372 L570 372 Q585 382 600 385 L700 386 Q720 398 740 398 L780 396 Q800 392 836 394 L846 394 L846 440 L140 440 Z"/></g><g filter="url(#b2)" fill="rgb(27,27,27)" style="mix-blend-mode:lighten"><path d="M386 236 L398 236 L452 305 L432 305 Z"/></g><g filter="url(#b1)" stroke="rgb(22,22,22)" stroke-linecap="round" fill="none"><path d="M415 370 L424 390" stroke-width="2.5"/><path d="M426 370 L434.5 392" stroke-width="2.5"/><path d="M441 370 L455 398" stroke-width="3"/><path d="M466 370 L486 404" stroke-width="9"/><path d="M500 372 Q510 395 525 398 Q530 385 530 372 Z" stroke-width="2" fill="rgb(22,22,22)"/></g><g filter="url(#b1)" stroke="rgb(10,10,10)" fill="none" stroke-width="1.2" style="mix-blend-mode:darken"><path d="M383 244 L426 305"/></g></g><g fill="#000" fill-opacity="0.4" filter="url(#b0_7)"><rect x="153" y="93.5" width="6" height="2"/><rect x="153" y="110.9" width="6" height="2"/><rect x="153" y="128.3" width="6" height="2"/><rect x="153" y="145.7" width="6" height="2"/><rect x="153" y="163.1" width="14" height="2"/><rect x="153" y="180.5" width="6" height="2"/><rect x="153" y="197.9" width="6" height="2"/><rect x="153" y="215.3" width="6" height="2"/><rect x="153" y="232.7" width="6" height="2"/><rect x="153" y="250.1" width="14" height="2"/><rect x="153" y="267.5" width="6" height="2"/><rect x="153" y="284.9" width="6" height="2"/><rect x="153" y="302.3" width="6" height="2"/><rect x="153" y="319.7" width="6" height="2"/><rect x="153" y="337.1" width="14" height="2"/><rect x="153" y="354.5" width="6" height="2"/><rect x="153" y="371.9" width="6" height="2"/><rect x="153" y="389.3" width="6" height="2"/><rect x="153" y="406.7" width="6" height="2"/><rect x="153" y="424.1" width="14" height="2"/><rect x="378.5" y="426.5" width="2.4" height="6"/><rect x="608.0" y="426.5" width="2.4" height="6"/></g></svg>
</div>

<!-- label boxes -->
<div class="box" style="left:446.5px;top:102px;width:338px;height:64px"></div>
<span class="t" style="left:472.5px;top:118.8px;letter-spacing:-0.94px">Active</span>
<span class="t" style="left:578.9px;top:118.8px">TTR-PD</span>
<span class="t" style="left:702.1px;top:118.8px">WG</span>

<div class="box" style="left:276px;top:306px;width:436px;height:64px"></div>
<span class="t" style="left:301.2px;top:323px;letter-spacing:-0.78px">Passive</span>
<span class="t" style="left:426.7px;top:323px;letter-spacing:-1.13px">Optical</span>
<span class="t" style="left:542px;top:323px;letter-spacing:-1.86px">Silica</span>
<span class="t" style="left:632.7px;top:323px">WG</span>

<!-- colorbar -->
<div id="cbar"><svg width="22.3" height="499" viewBox="908 19.5 22.3 499" preserveAspectRatio="none" id="cbsvg" style="display:block"><rect x="900" y="19.50" width="40" height="32.10" fill="#e00000"/><rect x="900" y="51.30" width="40" height="32.20" fill="#ee0000"/><rect x="900" y="83.20" width="40" height="33.20" fill="#f90400"/><rect x="900" y="116.10" width="40" height="26.50" fill="#ff2200"/><rect x="900" y="142.30" width="40" height="22.80" fill="#ff5000"/><rect x="900" y="164.80" width="40" height="22.70" fill="#ff7800"/><rect x="900" y="187.20" width="40" height="16.10" fill="#ffa000"/><rect x="900" y="203.00" width="40" height="16.90" fill="#ffbb00"/><rect x="900" y="219.60" width="40" height="17.00" fill="#e0f500"/><rect x="900" y="236.30" width="40" height="15.50" fill="#ccff0a"/><rect x="900" y="251.50" width="40" height="16.80" fill="#a8ff28"/><rect x="900" y="268.00" width="40" height="16.30" fill="#80ff40"/><rect x="900" y="284.00" width="40" height="16.30" fill="#58f860"/><rect x="900" y="300.00" width="40" height="15.30" fill="#38f880"/><rect x="900" y="315.00" width="40" height="16.30" fill="#20f0a0"/><rect x="900" y="331.00" width="40" height="13.30" fill="#10f0c0"/><rect x="900" y="344.00" width="40" height="17.30" fill="#00e8d8"/><rect x="900" y="361.00" width="40" height="16.30" fill="#00e0e8"/><rect x="900" y="377.00" width="40" height="16.30" fill="#00d8f0"/><rect x="900" y="393.00" width="40" height="16.30" fill="#00c0ff"/><rect x="900" y="409.00" width="40" height="16.90" fill="#0098ff"/><rect x="900" y="425.60" width="40" height="32.20" fill="#0048ff"/><rect x="900" y="457.50" width="40" height="14.60" fill="#0028ff"/><rect x="900" y="471.80" width="40" height="16.60" fill="#0010f0"/><rect x="900" y="488.10" width="40" height="15.90" fill="#0008e8"/><rect x="900" y="503.70" width="40" height="15.60" fill="#0000e0"/><rect x="900" y="19.5" width="40" height="1.2" fill="#ff0000"/></svg></div>
<span class="c" style="top:0px">1.00</span>
<span class="c" style="top:125px">0.75</span>
<span class="c" style="top:250px">0.50</span>
<span class="c" style="top:375px">0.25</span>
<span class="c" style="top:500px">0.00</span>
</body></html>
